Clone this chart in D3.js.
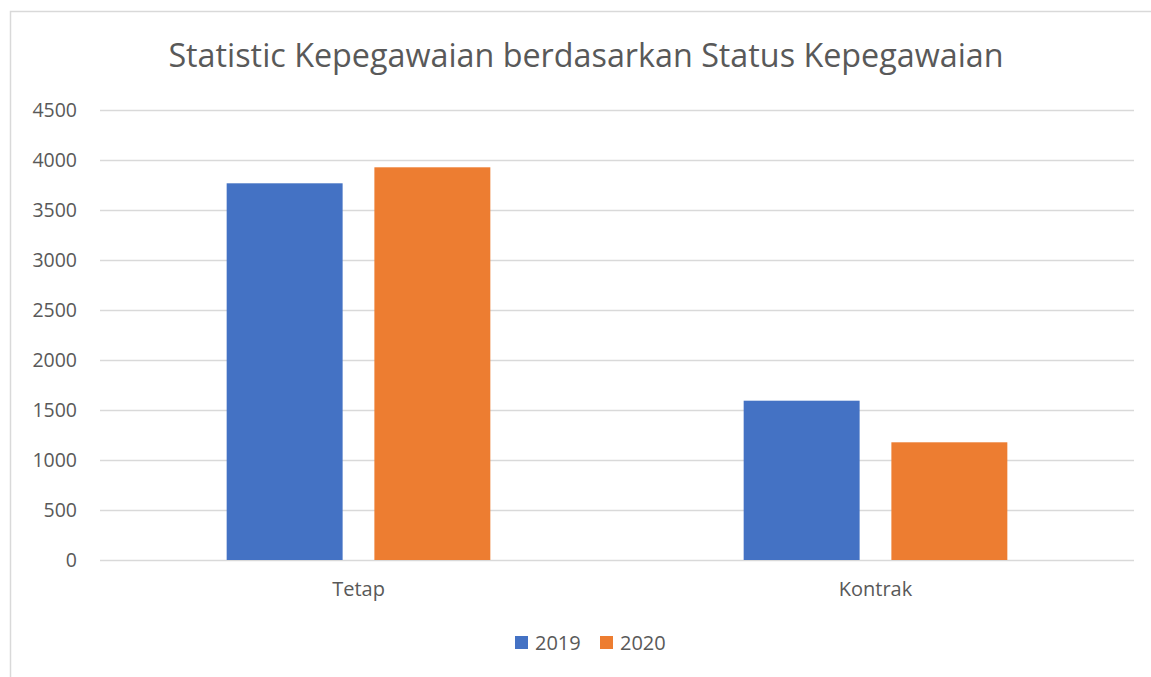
<!DOCTYPE html>
<html>
<head>
<meta charset="utf-8">
<script src="https://cdn.jsdelivr.net/npm/d3@7"></script>
<style>
  body { margin: 0; background: white; }
  svg { display: block; font-family: 'Open Sans', sans-serif; }
</style>
</head>
<body>
<div id="chart"></div>
<script>
const categories = ['Tetap', 'Kontrak']
const seriesNames = ['2019', '2020']
const values2019 = [3767, 1593]
const values2020 = [3927, 1177]
const yTicks = [0, 500, 1000, 1500, 2000, 2500, 3000, 3500, 4000, 4500]
const titleText = 'Statistic Kepegawaian berdasarkan Status Kepegawaian'

const width = 1151
const height = 677
const colors = ['#4472C4', '#ED7D31']
const textColor = '#595959'
const gridColor = '#D9D9D9'

const plot = {left: 100, right: 1134, top: 110, bottom: 560}

var svg = d3.select('#chart').append('svg')
	.attr('width', width)
	.attr('height', height)

// chart area border (top and left visible, rest cut off)
svg.append('rect')
	.attr('x', 10.5)
	.attr('y', 11.5)
	.attr('width', width + 20)
	.attr('height', height + 20)
	.style('fill', 'none')
	.style('stroke', gridColor)
	.style('stroke-width', 1.5)

svg.append('text')
	.attr('x', (plot.left + plot.right) / 2 - 31)
	.attr('y', 67)
	.attr('text-anchor', 'middle')
	.style('font-size', '32.3px')
	.style('fill', textColor)
	.text(titleText)

var yscale = d3.scaleLinear()
	.domain([0, 4500])
	.range([plot.bottom, plot.top])

var x0 = d3.scaleBand()
	.domain(categories)
	.range([plot.left, plot.right])

var x1 = d3.scaleBand()
	.domain(seriesNames)
	.range([x0.bandwidth() * 0.245, x0.bandwidth() * 0.755])
	.paddingInner(0.215)

// gridlines + y labels
var yAxis = svg.append('g')
	.attr('transform', 'translate(' + plot.left + ',0)')
	.call(d3.axisLeft(yscale).tickValues(yTicks).tickSize(-(plot.right - plot.left)).tickPadding(23).tickFormat(d3.format('d')))
yAxis.select('.domain').remove()
yAxis.selectAll('line').style('stroke', gridColor).style('stroke-width', 1.3)
yAxis.selectAll('text')
	.style('font-size', '19.5px')
	.style('font-family', "'Open Sans', sans-serif")
	.style('fill', textColor)

const series = [values2019, values2020]
var groups = svg.selectAll('.cat')
	.data(categories)
	.enter()
	.append('g')
	.attr('class', 'cat')
	.attr('transform', d => 'translate(' + x0(d) + ',0)')

groups.selectAll('rect')
	.data((d, i) => seriesNames.map((s, j) => ({s: s, v: series[j][i], j: j})))
	.enter()
	.append('rect')
	.attr('x', d => x1(d.s))
	.attr('y', d => yscale(d.v))
	.attr('width', x1.bandwidth())
	.attr('height', d => yscale(0) - yscale(d.v))
	.style('fill', d => colors[d.j])

// category labels
var xAxis = svg.append('g')
	.attr('transform', 'translate(0,' + plot.bottom + ')')
	.call(d3.axisBottom(x0).tickSize(0).tickPadding(22))
xAxis.select('.domain').remove()
xAxis.selectAll('text')
	.style('font-size', '20px')
	.style('font-family', "'Open Sans', sans-serif")
	.style('fill', textColor)

// legend
var legend = svg.append('g')
	.attr('transform', 'translate(515, 636)')
var items = legend.selectAll('g')
	.data(seriesNames)
	.enter()
	.append('g')
	.attr('transform', (d, i) => 'translate(' + (i * 85) + ',0)')
items.append('rect')
	.attr('width', 13)
	.attr('height', 13)
	.style('fill', (d, i) => colors[i])
items.append('text')
	.attr('x', 20)
	.attr('y', 14)
	.style('font-size', '20px')
	.style('fill', textColor)
	.text(d => d)
</script>
</body>
</html>
